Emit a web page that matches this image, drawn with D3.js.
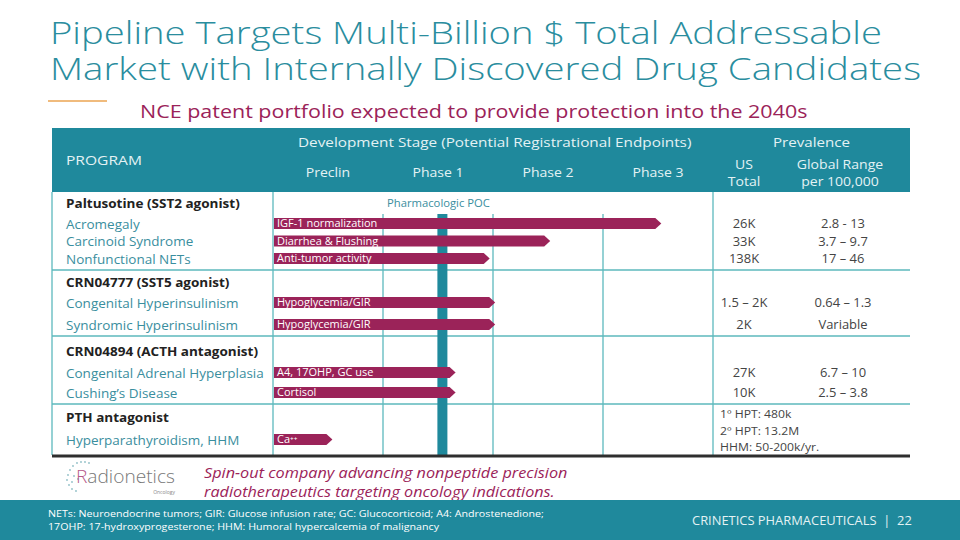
<!DOCTYPE html>
<html><head><meta charset="utf-8">
<script src="https://cdn.jsdelivr.net/npm/d3@7"></script>
<style>
html,body{margin:0;padding:0;background:#fff;}
svg{display:block;font-family:"Open Sans",sans-serif;}
</style></head>
<body><svg id="c" width="960" height="540"></svg>
<script>
// ---------- DATA ----------
const programs = ["Paltusotine (SST2 agonist)", "CRN04777 (SST5 agonist)", "CRN04894 (ACTH antagonist)", "PTH antagonist"];
const indications = ["Acromegaly", "Carcinoid Syndrome", "Nonfunctional NETs", "Congenital Hyperinsulinism", "Syndromic Hyperinsulinism", "Congenital Adrenal Hyperplasia", "Cushing’s Disease", "Hyperparathyroidism, HHM"];
const programOf = [0, 0, 0, 1, 1, 2, 2, 3];
const endpoints = ["IGF-1 normalization", "Diarrhea & Flushing", "Anti-tumor activity", "Hypoglycemia/GIR", "Hypoglycemia/GIR", "A4, 17OHP, GC use", "Cortisol", "Ca⁺⁺"];
const progress = [3.53, 2.52, 1.97, 2.02, 2.02, 1.66, 1.66, 0.54]; // stage units (0 = start of Preclin, 4 = end of Phase 3)
const usTotal = ["26K", "33K", "138K", "1.5 – 2K", "2K", "27K", "10K", ""];
const globalRange = ["2.8 - 13", "3.7 – 9.7", "17 – 46", "0.64 – 1.3", "Variable", "6.7 – 10", "2.5 – 3.8", ""];
const pthPrevalence = ["1º HPT: 480k", "2º HPT: 13.2M", "HHM: 50-200k/yr."];
const stages = ["Preclin", "Phase 1", "Phase 2", "Phase 3"];
const pocStage = 1.54;
const pocLabel = "Pharmacologic POC";
const titleLines = ["Pipeline Targets Multi-Billion $ Total Addressable", "Market with Internally Discovered Drug Candidates"];
const subtitle = "NCE patent portfolio expected to provide protection into the 2040s";
const spinout = ["Spin-out company advancing nonpeptide precision", "radiotherapeutics targeting oncology indications."];
const footnotes = ["NETs: Neuroendocrine tumors; GIR: Glucose infusion rate; GC: Glucocorticoid; A4: Androstenedione;", "17OHP: 17-hydroxyprogesterone; HHM: Humoral hypercalcemia of malignancy"];
const company = "CRINETICS PHARMACEUTICALS  |  22";

// ---------- STYLE / LAYOUT ----------
const TEAL = "#1f899c", TITLE = "#2a8d9e", MAROON = "#9b2359", GRID = "#5cb9bd", LABEL = "#3a8e9e";
const svg = d3.select("#c");
const L = 52, R = 910;
const x = d3.scaleLinear().domain([0, 4]).range([273, 713]);
const rowY = [223.5, 241, 258.5, 302.5, 324.5, 372.5, 392.5, 439.5];
const progY = [203, 282, 351, 417];

// stretch a text horizontally to a target width (emulates the wide geometric slide font)
function fit(sel, w) {
  sel.each(function () {
    const len = this.getComputedTextLength();
    if (len <= 0) return;
    const x0 = +this.getAttribute("x"), y0 = +this.getAttribute("y");
    this.setAttribute("x", 0); this.setAttribute("y", 0);
    this.setAttribute("transform", `translate(${x0},${y0}) scale(${(w / len).toFixed(4)},1)`);
  });
  return sel;
}
// stretch by a fixed factor
function widen(sel, f) {
  sel.each(function () {
    const x0 = +this.getAttribute("x"), y0 = +this.getAttribute("y");
    this.setAttribute("x", 0); this.setAttribute("y", 0);
    this.setAttribute("transform", `translate(${x0},${y0}) scale(${f},1)`);
  });
  return sel;
}

// Title: one text block, two lines stretched to width
const title = svg.append("text").attr("font-size", 32).attr("font-weight", 300).attr("fill", TITLE);
title.selectAll("tspan").data(titleLines).join("tspan")
  .attr("x", 50).attr("y", (d, i) => [44, 80][i])
  .attr("textLength", (d, i) => [832, 871][i]).attr("lengthAdjust", "spacingAndGlyphs")
  .text(d => d);

svg.append("line").attr("x1", 48).attr("x2", 107).attr("y1", 101).attr("y2", 101)
  .attr("stroke", "#eba552").attr("stroke-width", 1.5);

fit(svg.append("text").attr("x", 140).attr("y", 118).attr("font-size", 18.5).attr("fill", MAROON)
  .text(subtitle), 668);

// Header band
svg.append("rect").attr("x", L).attr("y", 128).attr("width", R - L).attr("height", 64).attr("fill", TEAL);
const hdr = svg.append("g").attr("fill", "#e4f2f4").attr("font-size", 13);
hdr.append("text").attr("x", 66).attr("y", 165).text("PROGRAM").call(fit, 76);
hdr.append("text").attr("x", 298).attr("y", 147)
  .text("Development Stage (Potential Registrational Endpoints)").call(fit, 394);
hdr.append("text").attr("x", 773).attr("y", 147).text("Prevalence").call(fit, 77);
hdr.selectAll("text.stage").data(stages).join("text").attr("class", "stage")
  .attr("x", (d, i) => x(i + 0.5)).attr("y", 177).attr("text-anchor", "middle").text(d => d).call(widen, 1.08);
hdr.append("text").attr("x", 744).attr("y", 169).attr("text-anchor", "middle").text("US").call(widen, 1.08);
hdr.append("text").attr("x", 744).attr("y", 186).attr("text-anchor", "middle").text("Total").call(widen, 1.08);
hdr.append("text").attr("x", 840).attr("y", 169).attr("text-anchor", "middle").text("Global Range").call(widen, 1.08);
hdr.append("text").attr("x", 840).attr("y", 186).attr("text-anchor", "middle").text("per 100,000").call(widen, 1.08);

// Grid
const grid = svg.append("g").attr("stroke", GRID).attr("stroke-width", 1.3);
grid.append("line").attr("x1", L).attr("x2", L).attr("y1", 192).attr("y2", 455);
grid.append("line").attr("x1", x(0)).attr("x2", x(0)).attr("y1", 192).attr("y2", 455);
grid.append("line").attr("x1", x(4)).attr("x2", x(4)).attr("y1", 192).attr("y2", 455);
grid.selectAll("line.ph").data([1, 2, 3]).join("line").attr("class", "ph")
  .attr("x1", d => x(d)).attr("x2", d => x(d)).attr("y1", 214).attr("y2", 455);
grid.selectAll("line.hz").data([270, 336, 404]).join("line").attr("class", "hz")
  .attr("x1", L).attr("x2", R).attr("y1", d => d).attr("y2", d => d);

// POC marker
svg.append("rect").attr("x", x(pocStage) - 5).attr("y", 214).attr("width", 10).attr("height", 241).attr("fill", TEAL);
svg.append("text").attr("x", 387).attr("y", 207)
  .attr("font-size", 11).attr("fill", LABEL).text(pocLabel).call(fit, 103);

svg.append("line").attr("x1", L).attr("x2", R).attr("y1", 456).attr("y2", 456)
  .attr("stroke", "#2e2e2e").attr("stroke-width", 3);

// Program names & indications
svg.selectAll("text.prog").data(programs).join("text").attr("class", "prog")
  .attr("x", 66).attr("y", (d, i) => progY[i] + 5).attr("font-size", 13).attr("font-weight", 700)
  .attr("fill", "#222").text(d => d).call(widen, 1.04);
svg.selectAll("text.ind").data(indications).join("text").attr("class", "ind")
  .attr("x", 66).attr("y", (d, i) => rowY[i] + 5).attr("font-size", 12.5)
  .attr("fill", LABEL).text(d => d).call(widen, 1.08);

// Bars
const bh = 11, tip = 6;
const bars = svg.selectAll("g.bar").data(progress).join("g").attr("class", "bar");
bars.append("path").attr("fill", MAROON).attr("d", (d, i) => {
  const x0 = x(0) + 1, x1 = x(d), y0 = rowY[i] - bh / 2, y1 = rowY[i] + bh / 2;
  return `M${x0},${y0}H${x1 - tip}L${x1},${rowY[i]}L${x1 - tip},${y1}H${x0}Z`;
});
bars.append("text").attr("x", x(0) + 4).attr("y", (d, i) => rowY[i] + 3.8)
  .attr("font-size", 10).attr("fill", "#fff").text((d, i) => endpoints[i]).call(widen, 1.1);

// Prevalence
svg.selectAll("text.us").data(usTotal).join("text").attr("class", "us")
  .attr("x", 744).attr("y", (d, i) => rowY[i] + 4.5).attr("text-anchor", "middle")
  .attr("font-size", 12).attr("fill", "#444").text(d => d).call(widen, 1.08);
svg.selectAll("text.gl").data(globalRange).join("text").attr("class", "gl")
  .attr("x", 843).attr("y", (d, i) => rowY[i] + 4.5).attr("text-anchor", "middle")
  .attr("font-size", 12).attr("fill", "#444").text(d => d).call(widen, 1.08);
svg.selectAll("text.pth").data(pthPrevalence).join("text").attr("class", "pth")
  .attr("x", 720).attr("y", (d, i) => 418 + i * 16.5)
  .attr("font-size", 11.5).attr("fill", "#444").text(d => d).call(widen, 1.06);

// Radionetics logo
const logo = svg.append("g");
const dots = [[70,470],[73,466],[77,463],[81,462],[85,462],[89,463],[68,475],[67,480],[69,485],[72,489],[76,491],[74,476],[78,479],[72,482]];
logo.selectAll("circle").data(dots).join("circle").attr("cx", d => d[0]).attr("cy", d => d[1]).attr("r", 0.9).attr("fill", "#8fbfc6");
logo.append("text").attr("x", 76).attr("y", 483).attr("font-size", 18).attr("font-weight", 300).attr("fill", "#777")
  .html('<tspan fill="#b55889">R</tspan>adionetics').call(fit, 99);
logo.append("text").attr("x", 175).attr("y", 494).attr("text-anchor", "end").attr("font-size", 5).attr("fill", "#888").text("Oncology");

svg.selectAll("text.spin").data(spinout).join("text").attr("class", "spin")
  .attr("x", 204).attr("y", (d, i) => 478 + i * 18.5).attr("font-size", 14).attr("font-style", "italic")
  .attr("fill", MAROON).text(d => d)
  .each(function (d, i) { fit(d3.select(this), [364, 351][i]); });

// Bottom band
svg.append("rect").attr("x", 0).attr("y", 500).attr("width", 960).attr("height", 40).attr("fill", TEAL);
svg.selectAll("text.fn").data(footnotes).join("text").attr("class", "fn")
  .attr("x", 48).attr("y", (d, i) => 517 + i * 12.5).attr("font-size", 9.5).attr("fill", "#fff").text(d => d)
  .each(function (d, i) { fit(d3.select(this), [496, 391][i]); });
svg.append("text").attr("x", 692).attr("y", 525).attr("font-size", 12)
  .attr("fill", "#e4f2f4").attr("xml:space", "preserve").text(company).call(fit, 220);
</script>
</body></html>
